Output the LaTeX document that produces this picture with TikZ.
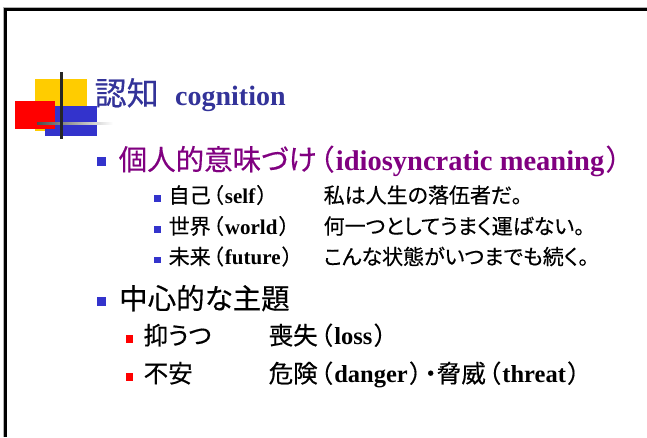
\documentclass[tikz,border=0pt]{standalone}
\usepackage{fontspec}
\setmainfont{Liberation Serif}
\newfontfamily\jpfont[RawFeature=+palt, BoldFont={Noto Sans CJK JP}, BoldFeatures={FakeBold=0.4}]{Noto Sans CJK JP}
\usetikzlibrary{positioning}
\definecolor{titleblue}{RGB}{51,51,153}
\definecolor{bulletblue}{RGB}{51,51,204}
\definecolor{meaningpurple}{RGB}{128,0,128}
\definecolor{logoyellow}{RGB}{255,204,0}
\newcommand{\en}[1]{{\rmfamily\bfseries #1}}
\newcommand{\lp}{\hspace{.1em}（\hspace{.08em}}
\newcommand{\rp}{\hspace{.08em}）\hspace{.1em}}
\tikzset{
  txt/.style={inner sep=0pt, anchor=base west},
  lvlone/.style={txt, font=\jpfont\bfseries\fontsize{28.5}{28.5}\selectfont},
  lvltwo/.style={txt, font=\jpfont\bfseries\fontsize{24.5}{24.5}\selectfont},
  lvlthree/.style={txt, font=\jpfont\bfseries\fontsize{21}{21}\selectfont},
  dotone/.style={fill=bulletblue, inner sep=0pt, minimum size=9pt},
  dottwo/.style={fill=red, inner sep=0pt, minimum size=7.5pt},
  dotthree/.style={fill=bulletblue, inner sep=0pt, minimum size=6.5pt}
}

\begin{document}
\begin{tikzpicture}[x=1pt, y=-1pt]
  \useasboundingbox (0,0) rectangle (647,437);

  % Frame
  \draw[black!30, line width=1pt] (3.5,437) -- (3.5,7.5) -- (647,7.5);
  \draw[line width=3pt] (5.5,437) -- (5.5,9.5) -- (647,9.5);

  % Logo
  \fill[logoyellow] (35,79) rectangle (87,131);
  \fill[bulletblue] (45,106) rectangle (97,136);
  \fill[red] (15,101) rectangle (55,129);
  \shade[left color=black!70, right color=white] (37,122) rectangle (113,124.5);
  \draw[line width=3pt, black!85] (61.5,72) -- (61.5,139);

  % Title
  \node[txt, font=\jpfont\bfseries\fontsize{32}{32}\selectfont, titleblue] (titlejp) at (94.5,105) {認知};
  \node[txt, font=\fontsize{28}{28}\selectfont, titleblue] (titleen) at (175,105) {\en{cognition}};

  % Idiosyncratic meaning
  \node[lvlone, meaningpurple] (meaning) at (118.5,170) {個人的意味づけ\lp\en{idiosyncratic meaning}\rp};
  \node[dotone] (dmeaning) at ([xshift=-17pt, yshift=9pt]meaning.base west) {};

  \node[lvlthree] (self) at (168.5,203) {自己\lp\en{self}\rp};
  \node[lvlthree] (selftxt) at (323.5,203) {私は人生の落伍者だ。};
  \node[lvlthree] (world) at (168.5,234) {世界\lp\en{world}\rp};
  \node[lvlthree] (worldtxt) at (323.5,234) {何一つとしてうまく運ばない。};
  \node[lvlthree] (future) at (168.5,264.5) {未来\lp\en{future}\rp};
  \node[lvlthree] (futuretxt) at (323.5,264.5) {こんな状態がいつまでも続く。};
  \foreach \n in {self,world,future}
    \node[dotthree] (d\n) at ([xshift=-11pt, yshift=4.5pt]\n.base west) {};

  % Central themes
  \node[lvlone] (theme) at (119,309) {中心的な主題};
  \node[dotone] (dtheme) at ([xshift=-17.5pt, yshift=8pt]theme.base west) {};

  \node[lvltwo] (depr) at (143.5,344.5) {抑うつ};
  \node[lvltwo] (deprtxt) at (268.5,344.5) {喪失\lp\en{loss}\rp};
  \node[lvltwo] (anx) at (143.5,382.5) {不安};
  \node[lvltwo] (anxtxt) at (268.5,382.5) {危険\lp\en{danger}\rp・脅威\lp\en{threat}\rp};
  \foreach \n in {depr,anx}
    \node[dottwo] (d\n) at ([xshift=-14pt, yshift=5.5pt]\n.base west) {};
\end{tikzpicture}
\end{document}
